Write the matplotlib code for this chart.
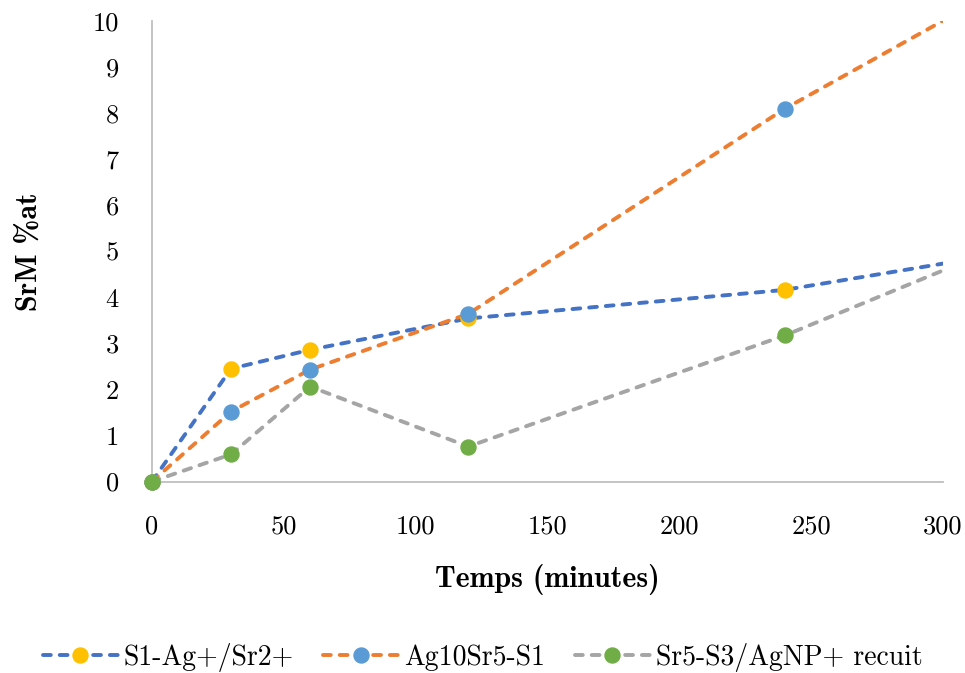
import matplotlib
matplotlib.use('Agg')
import matplotlib.pyplot as plt
from matplotlib.lines import Line2D

# data
temps = [0, 30, 60, 120, 240, 300]
s1_ag_sr = [0, 2.45, 2.86, 3.54, 4.16, 4.73]
ag10sr5_s1 = [0, 1.52, 2.43, 3.64, 8.09, 10.0]
sr5_s3_agnp = [0, 0.59, 2.06, 0.76, 3.17, 4.58]
labels = ['S1-Ag+/Sr2+', 'Ag10Sr5-S1', 'Sr5-S3/AgNP+ recuit']
x_ticks = [0, 50, 100, 150, 200, 250, 300]
y_ticks = list(range(0, 11))

line_colors = ['#4472C4', '#ED7D31', '#A5A5A5']
marker_colors = ['#FFC000', '#5B9BD5', '#70AD47']

plt.rcParams['font.family'] = 'cmr10'
plt.rcParams['axes.unicode_minus'] = False

fig = plt.figure(figsize=(9.65, 6.73), dpi=100)
ax = fig.add_axes([0.1575, 0.2845, 0.8195, 0.6845])

dash = (0, (2.0, 2.3))
series = [s1_ag_sr, ag10sr5_s1, sr5_s3_agnp]
handles = []
for vals, lc, mc, lab in zip(series, line_colors, marker_colors, labels):
    ax.plot(temps, vals, color=lc, lw=2.8, linestyle=dash, dash_capstyle='round',
            solid_joinstyle='round', zorder=2)
    handles.append(Line2D([], [], color=lc, lw=2.8, linestyle=dash, dash_capstyle='round',
                          marker='o', markersize=10.8, markerfacecolor=mc, markeredgecolor=mc, label=lab))
# last point (300) has no marker on the original
for vals, mc in zip(series, marker_colors):
    ax.plot(temps[:-1], vals[:-1], 'o', color=mc, markersize=10.8, clip_on=False, zorder=3)

ax.set_xlim(0, 300)
ax.set_ylim(0, 10)
ax.set_xticks(x_ticks)
ax.set_yticks(y_ticks)
ax.tick_params(length=0, labelsize=19)
ax.tick_params(axis='x', pad=24)
ax.tick_params(axis='y', pad=24)

for s in ['top', 'right']:
    ax.spines[s].set_visible(False)
for s in ['left', 'bottom']:
    ax.spines[s].set_color('#BFBFBF')
    ax.spines[s].set_linewidth(1.3)

ax.set_xlabel('Temps (minutes)', fontfamily='cmb10', fontsize=21.5, labelpad=18)
ax.set_ylabel('SrM %at', fontfamily='cmb10', fontsize=21.5, labelpad=36)

fig.legend(handles=handles, loc='center', bbox_to_anchor=(0.5, 0.023), ncol=3, frameon=False,
           fontsize=20, handlelength=2.7, handletextpad=0.22, columnspacing=1.05)

fig.savefig('out.png', dpi=100)
